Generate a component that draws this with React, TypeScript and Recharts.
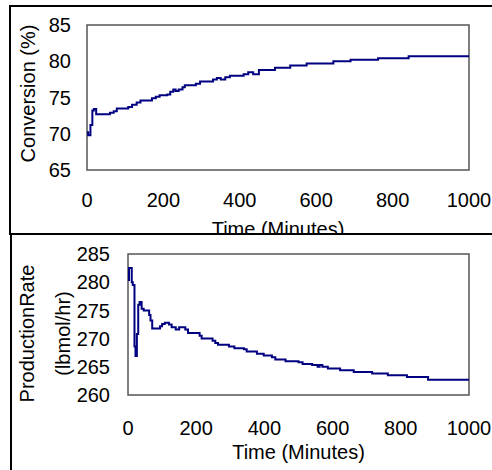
import React from "react";
import {
  LineChart,
  Line,
  XAxis,
  YAxis,
  ReferenceArea,
  Label,
} from "recharts";

// time axis ticks (minutes)
const timeTicks = [0, 200, 400, 600, 800, 1000];

// Conversion (%) vs time
const convTime = [
  0, 3, 9, 14, 18, 24, 60, 70, 78, 108, 118, 130, 140, 170, 180, 190, 210,
  218, 226, 232, 240, 250, 256, 285, 296, 330, 340, 350, 362, 374, 410, 422,
  435, 450, 492, 532, 575, 645, 690, 762, 842, 1000,
];
const convValue = [
  70.2, 69.8, 71.2, 73.2, 73.4, 72.7, 72.9, 73.1, 73.5, 73.7, 74.0, 74.3,
  74.6, 74.9, 75.1, 75.3, 75.4, 75.8, 76.1, 75.9, 76.1, 76.4, 76.7, 76.9,
  77.2, 77.5, 77.7, 77.5, 77.8, 78.0, 78.2, 78.5, 78.2, 78.8, 79.1, 79.4,
  79.7, 80.0, 80.2, 80.4, 80.7, 80.7,
];
const convTicks = [65, 70, 75, 80, 85];

// Production rate (lbmol/hr) vs time
const rateTime = [
  0, 3, 11, 14, 19, 22, 26, 30, 34, 40, 46, 62, 66, 71, 76, 94, 100, 108,
  120, 128, 140, 150, 168, 176, 210, 216, 248, 256, 264, 296, 312, 340, 348,
  378, 398, 422, 432, 462, 500, 512, 540, 556, 562, 570, 586, 622, 662, 716,
  762, 818, 880, 1000,
];
const rateValue = [
  280.4, 282.5, 280.0, 279.5, 268.6, 266.9, 270.8, 276.0, 276.5, 275.3,
  275.0, 274.2, 273.2, 271.8, 271.8, 272.2, 272.6, 272.8, 272.5, 272.0,
  271.6, 272.0, 271.6, 271.0, 270.5, 270.0, 269.6, 269.2, 268.9, 268.6,
  268.3, 268.1, 267.7, 267.3, 267.0, 266.7, 266.3, 266.0, 265.8, 265.5,
  265.3, 265.0, 265.3, 265.0, 264.7, 264.4, 264.1, 263.8, 263.5, 263.2,
  262.7, 262.7,
];
const rateTicks = [260, 265, 270, 275, 280, 285];

const convData = convTime.map((t, i) => ({ t, v: convValue[i] }));
const rateData = rateTime.map((t, i) => ({ t, v: rateValue[i] }));

const FONT = "'Liberation Sans', Arial, sans-serif";
const tickStyle = { fill: "#000", fontSize: 20, fontFamily: FONT };
const labelStyle = { fill: "#000", fontSize: 20, fontFamily: FONT };
const lineColor = "#000080";
const boxColor = "#555";

export default function App() {
  return (
    <div
      style={{
        position: "absolute",
        left: 0,
        top: 0,
        width: 492,
        height: 470,
        overflow: "hidden",
        background: "#fff",
        fontFamily: FONT,
      }}
    >
      {/* top panel */}
      <div
        style={{
          position: "absolute",
          left: 0,
          top: 0,
          width: 492,
          height: 234,
          overflow: "hidden",
        }}
      >
        <LineChart
          width={492}
          height={240}
          data={convData}
          margin={{ top: 25, right: 23, left: 0, bottom: 0 }}
        >
          <XAxis
            dataKey="t"
            type="number"
            domain={[0, 1000]}
            ticks={timeTicks}
            height={70}
            axisLine={false}
            tickLine={false}
            tickMargin={17}
            tick={tickStyle}
          >
            <Label
              value="Time (Minutes)"
              position="insideBottom"
              offset={4}
              style={labelStyle}
            />
          </XAxis>
          <YAxis
            type="number"
            domain={[65, 85]}
            ticks={convTicks}
            width={87}
            axisLine={false}
            tickLine={false}
            tickMargin={10}
            tick={tickStyle}
            interval={0}
          >
            <Label
              value="Conversion (%)"
              angle={-90}
              position="insideLeft"
              offset={28}
              dy={-4}
              style={{ ...labelStyle, textAnchor: "middle" }}
            />
          </YAxis>
          <ReferenceArea
            x1={0}
            x2={1000}
            y1={65}
            y2={85}
            fill="none"
            stroke={boxColor}
            strokeWidth={1.5}
          />
          <Line
            type="stepAfter"
            dataKey="v"
            stroke={lineColor}
            strokeWidth={2}
            dot={false}
            isAnimationActive={false}
          />
        </LineChart>
      </div>

      {/* bottom panel */}
      <div
        style={{
          position: "absolute",
          left: 0,
          top: 234,
          width: 492,
          height: 236,
          overflow: "hidden",
        }}
      >
        <LineChart
          width={492}
          height={236}
          data={rateData}
          margin={{ top: 20, right: 23, left: 0, bottom: 0 }}
        >
          <XAxis
            dataKey="t"
            type="number"
            domain={[0, 1000]}
            ticks={timeTicks}
            height={75}
            axisLine={false}
            tickLine={false}
            tickMargin={20}
            tick={tickStyle}
          >
            <Label
              value="Time (Minutes)"
              position="insideBottom"
              offset={11}
              style={labelStyle}
            />
          </XAxis>
          <YAxis
            type="number"
            domain={[260, 285]}
            ticks={rateTicks}
            width={128}
            axisLine={false}
            tickLine={false}
            tickMargin={12}
            tick={tickStyle}
            interval={0}
          >
            <Label
              value="ProductionRate"
              angle={-90}
              position="insideLeft"
              offset={27}
              dy={9}
              style={{ ...labelStyle, textAnchor: "middle" }}
            />
            <Label
              value="(lbmol/hr)"
              angle={-90}
              position="insideLeft"
              offset={63}
              dy={9}
              style={{ ...labelStyle, textAnchor: "middle" }}
            />
          </YAxis>
          <ReferenceArea
            x1={0}
            x2={1000}
            y1={260}
            y2={285}
            fill="none"
            stroke={boxColor}
            strokeWidth={1.5}
          />
          <Line
            type="stepAfter"
            dataKey="v"
            stroke={lineColor}
            strokeWidth={2}
            dot={false}
            isAnimationActive={false}
          />
        </LineChart>
      </div>

      {/* panel frames */}
      <div
        style={{
          position: "absolute",
          left: 9,
          top: 5,
          width: 500,
          height: 230,
          border: "2px solid #000",
          boxSizing: "border-box",
          pointerEvents: "none",
        }}
      />
      <div
        style={{
          position: "absolute",
          left: 10,
          top: 233,
          width: 500,
          height: 260,
          border: "2px solid #000",
          boxSizing: "border-box",
          pointerEvents: "none",
        }}
      />
    </div>
  );
}
